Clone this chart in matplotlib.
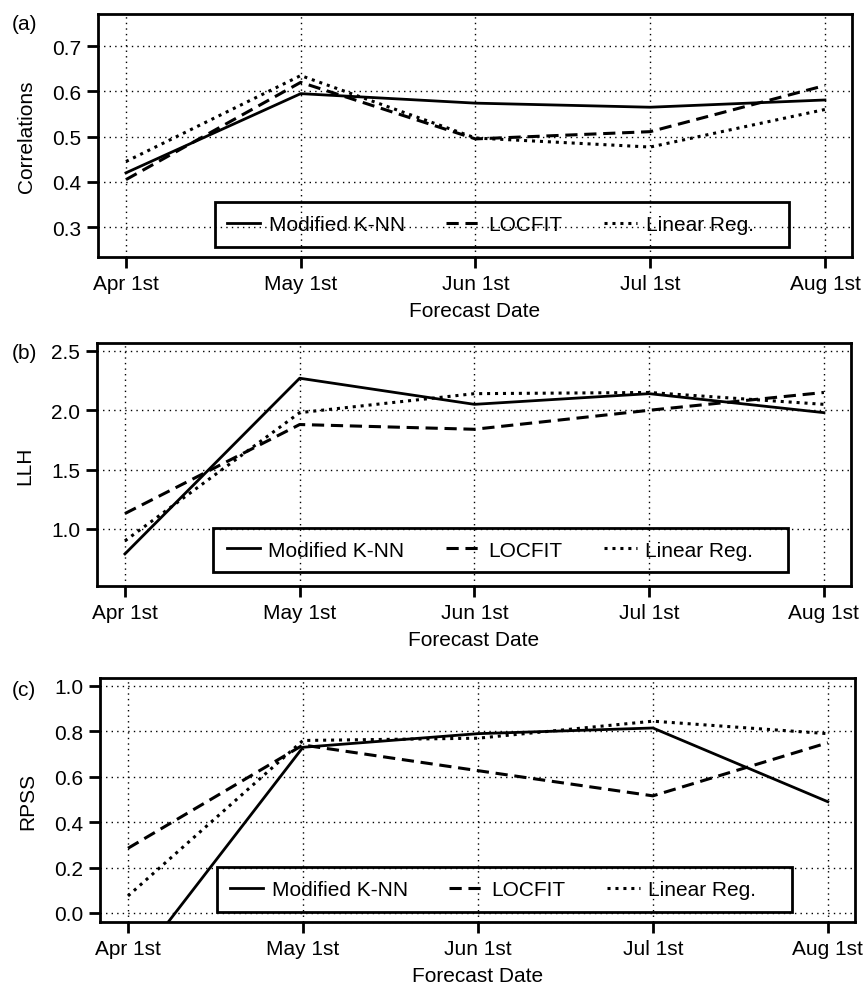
import matplotlib
matplotlib.use("Agg")
from matplotlib import pyplot as plt
from matplotlib.patches import Rectangle
from matplotlib.ticker import FormatStrFormatter

plt.rcParams['font.family'] = ['Liberation Sans', 'DejaVu Sans']
plt.rcParams['font.size'] = 15

dates = ["Apr 1st", "May 1st", "Jun 1st", "Jul 1st", "Aug 1st"]
methods = ["Modified K-NN", "LOCFIT", "Linear Reg."]

# (a) correlations
corr_knn = [0.42, 0.595, 0.574, 0.565, 0.581]
corr_locfit = [0.405, 0.62, 0.495, 0.511, 0.613]
corr_linreg = [0.445, 0.635, 0.497, 0.477, 0.56]

# (b) likelihood
llh_knn = [0.79, 2.27, 2.05, 2.14, 1.98]
llh_locfit = [1.13, 1.88, 1.84, 2.0, 2.15]
llh_linreg = [0.90, 1.98, 2.14, 2.15, 2.05]

# (c) ranked probability skill score
rpss_knn = [-0.27, 0.73, 0.79, 0.815, 0.49]
rpss_locfit = [0.285, 0.74, 0.627, 0.516, 0.75]
rpss_linreg = [0.075, 0.76, 0.77, 0.845, 0.79]

panels = [
    ("(a)", "Correlations", [corr_knn, corr_locfit, corr_linreg],
     [0.3, 0.4, 0.5, 0.6, 0.7], (0.234, 0.771)),
    ("(b)", "LLH", [llh_knn, llh_locfit, llh_linreg],
     [1.0, 1.5, 2.0, 2.5], (0.52, 2.567)),
    ("(c)", "RPSS", [rpss_knn, rpss_locfit, rpss_linreg],
     [0.0, 0.2, 0.4, 0.6, 0.8, 1.0], (-0.04, 1.035)),
]

# axes rectangles in figure fractions (left, bottom, width, height)
rects = [
    (0.1133, 0.7386, 0.8717, 0.2462),
    (0.1121, 0.4053, 0.8717, 0.2462),
    (0.1156, 0.0648, 0.8728, 0.2472),
]
# legend frame (axes fractions) and where the legend content starts
legend_frames = [
    (0.155, 0.041, 0.761, 0.185),
    (0.154, 0.058, 0.763, 0.181),
    (0.155, 0.041, 0.762, 0.185),
]
legend_anchor = [(0.171, 0.134), (0.172, 0.148), (0.172, 0.133)]
tag_y = [0.975, 0.642, 0.300]

styles = ['-', (0, (4, 2.2)), (0, (1, 1.6))]
widths = [2.0, 2.2, 2.2]

fig = plt.figure(figsize=(8.65, 9.87), dpi=100)
x = range(len(dates))

for (tag, ylab, series, yticks, ylim), rect, lf, la, ty in zip(
        panels, rects, legend_frames, legend_anchor, tag_y):
    ax = fig.add_axes(rect)
    for vals, ls, lw, name in zip(series, styles, widths, methods):
        ax.plot(x, vals, color='k', linestyle=ls, linewidth=lw, label=name)
    ax.set_xlim(-0.16, 4.155)
    ax.set_ylim(*ylim)
    ax.set_xticks(list(x))
    ax.set_xticklabels(dates)
    ax.set_yticks(yticks)
    ax.yaxis.set_major_formatter(FormatStrFormatter('%.1f'))
    ax.grid(True, color='k', linestyle=(0, (1, 3)), linewidth=1.0)
    ax.tick_params(direction='out', length=8, width=2, pad=4)
    for sp in ax.spines.values():
        sp.set_linewidth(2)
    ax.set_xlabel("Forecast Date", labelpad=6)
    ax.set_ylabel(ylab, labelpad=12)

    # legend without its own frame; the box is drawn separately
    ax.legend(loc='center left', bbox_to_anchor=la, ncol=3, frameon=False,
              borderaxespad=0, borderpad=0, handlelength=1.6,
              handletextpad=0.4, columnspacing=2.0)
    ax.add_patch(Rectangle(lf[:2], lf[2], lf[3], transform=ax.transAxes,
                           fill=False, edgecolor='k', linewidth=2, zorder=5))
    fig.text(0.014, ty, tag, fontsize=15, va='center')

fig.savefig("out.png", dpi=100)
